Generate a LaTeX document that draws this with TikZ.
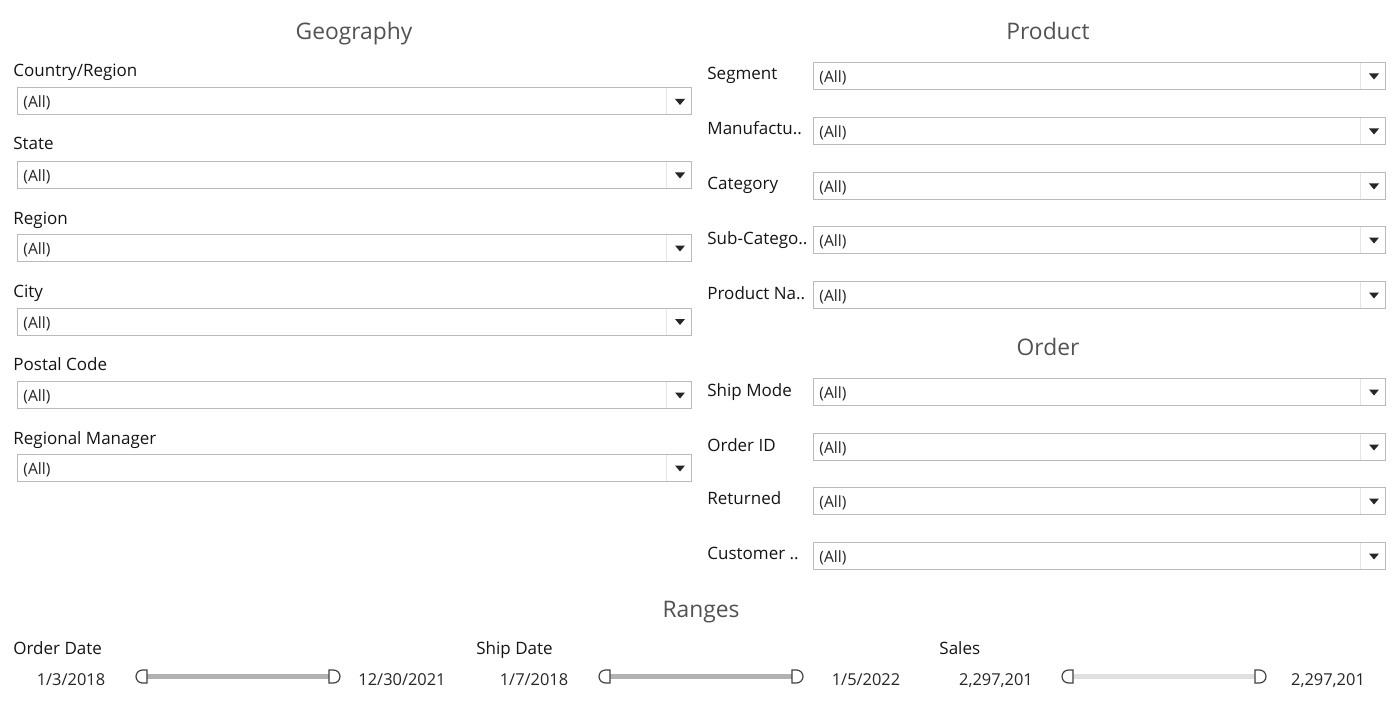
\documentclass[tikz,border=0pt]{standalone}
\usepackage{fontspec}
\setmainfont{Open Sans}
\begin{document}
\begin{tikzpicture}[x=0.5pt,y=-0.5pt,
  title/.style={text=black!68, font=\fontsize{11.4}{13}\selectfont, inner sep=0pt, anchor=base},
  lbl/.style={text=black!92, font=\fontsize{8.5}{10}\selectfont, anchor=base west, inner sep=0pt},
  val/.style={text=black!85, font=\fontsize{7.8}{9}\selectfont, inner sep=0pt, anchor=base},
  ddbox/.style={draw=black!27, line width=0.5pt, fill=white, rectangle, inner sep=0pt},
  sep/.style={draw=black!10, line width=0.5pt},
  tri/.style={fill=black!85, draw=none},
  handle/.style={draw=black!75, line width=0.6pt, fill=white},
  bar/.style={line width=2.5pt}
]
\useasboundingbox (0,0) rectangle (1400,711);

% ---------- dropdown macro ----------
\newcommand{\mydd}[4]{% name, x1, x2, ycenter
  \node[ddbox, minimum width={(#3-#2)*0.5pt}, minimum height=13.5pt, anchor=west] (#1) at (#2,#4) {};
  \draw[sep] (#3-25,#4-13) -- (#3-25,#4+13);
  \fill[tri] (#3-16,#4-2.5) -- (#3-6,#4-2.5) -- (#3-11,#4+3.5) -- cycle;
  \node[val, anchor=base west] (#1t) at (#2+6,#4+6.5) {(All)};
}

% ---------- Geography ----------
\node[title] (geo) at (354,39.5) {Geography};
\node[lbl] (l1) at (13,77) {Country/Region};
\node[lbl] (l2) at (13,150) {State};
\node[lbl] (l3) at (13,224) {Region};
\node[lbl] (l4) at (13,297) {City};
\node[lbl] (l5) at (13,370) {Postal Code};
\node[lbl] (l6) at (13,444) {Regional Manager};
\mydd{d1}{17}{691}{101.5}
\mydd{d2}{17}{691}{175}
\mydd{d3}{17}{691}{248}
\mydd{d4}{17}{691}{321.5}
\mydd{d5}{17}{691}{395}
\mydd{d6}{17}{691}{468}

% ---------- Product ----------
\node[title] (prod) at (1048,39.5) {Product};
\node[lbl] (p1) at (707,80) {Segment};
\node[lbl] (p2) at (707,135) {Manufactu..};
\node[lbl] (p3) at (707,190) {Category};
\node[lbl] (p4) at (707,244) {Sub-Catego..};
\node[lbl] (p5) at (707,299) {Product Na..};
\mydd{e1}{813}{1385}{76}
\mydd{e2}{813}{1385}{131}
\mydd{e3}{813}{1385}{186}
\mydd{e4}{813}{1385}{240}
\mydd{e5}{813}{1385}{295}

% ---------- Order ----------
\node[title] (ord) at (1048,355.5) {Order};
\node[lbl] (o1) at (707,396) {Ship Mode};
\node[lbl] (o2) at (707,451) {Order ID};
\node[lbl] (o3) at (707,504) {Returned};
\node[lbl] (o4) at (707,559) {Customer ..};
\mydd{f1}{813}{1385}{392}
\mydd{f2}{813}{1385}{447}
\mydd{f3}{813}{1385}{501}
\mydd{f4}{813}{1385}{556}

% ---------- Ranges ----------
\node[title] (rng) at (701,617.5) {Ranges};
\node[lbl] (r1) at (13,654) {Order Date};
\node[lbl] (r2) at (476,654) {Ship Date};
\node[lbl] (r3) at (939,654) {Sales};

\newcommand{\myslider}[4]{% name, xstart, color, ycenter
  \coordinate (#1a) at (#2+11,#4);
  \coordinate (#1b) at (#2+193,#4);
  \draw[bar, draw=#3] (#1a) -- (#1b);
  \draw[handle] (#2+11,#4-6.5) -- (#2+6.5,#4-6.5) arc[start angle=270,end angle=90,radius=6.5] -- (#2+11,#4+6.5) -- cycle;
  \draw[handle] (#2+193,#4-6.5) -- (#2+197.5,#4-6.5) arc[start angle=-90,end angle=90,radius=6.5] -- (#2+193,#4+6.5) -- cycle;
}
\myslider{s1}{136}{black!30}{676.5}
\myslider{s2}{599}{black!30}{676.5}
\myslider{s3}{1062}{black!12}{676.5}

\tikzset{num/.style={val, font=\fontsize{8.2}{9}\selectfont}}
\node[num] (v1) at (71,685) {1/3/2018};
\node[num] (v2) at (402,685) {12/30/2021};
\node[num] (v3) at (534,685) {1/7/2018};
\node[num] (v4) at (866,685) {1/5/2022};
\node[num] (v5) at (996,685) {2,297,201};
\node[num] (v6) at (1328,685) {2,297,201};
\end{tikzpicture}
\end{document}
